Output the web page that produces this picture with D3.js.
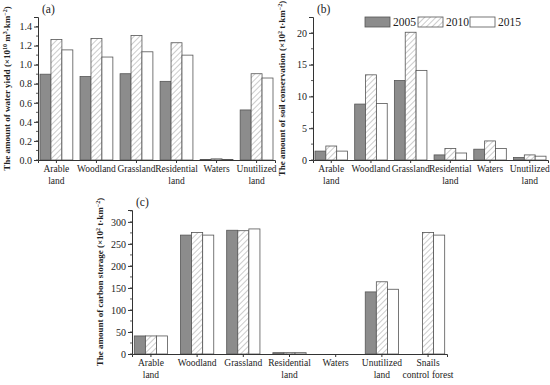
<!DOCTYPE html>
<html>
<head>
<meta charset="utf-8">
<script src="https://cdn.jsdelivr.net/npm/d3@7"></script>
<style>
  body { margin: 0; background: #fff; }
  svg text { font-family: "Liberation Serif", "Times New Roman", Times, serif; fill: #222; }
</style>
</head>
<body>
<div id="chart"></div>
<script>
var years = ["2005", "2010", "2015"];

var catsA = ["Arable|land", "Woodland", "Grassland", "Residential|land", "Waters", "Unutilized|land"];
var water2005 = [0.90, 0.875, 0.905, 0.825, 0.006, 0.525];
var water2010 = [1.265, 1.275, 1.305, 1.23, 0.012, 0.905];
var water2015 = [1.155, 1.08, 1.135, 1.10, 0.006, 0.86];
var ticksA = [0, 0.2, 0.4, 0.6, 0.8, 1.0, 1.2, 1.4];

var soil2005 = [1.4, 8.8, 12.5, 0.8, 1.7, 0.4];
var soil2010 = [2.2, 13.4, 20.1, 1.8, 3.0, 0.8];
var soil2015 = [1.4, 8.9, 14.1, 1.1, 1.8, 0.6];
var ticksB = [0, 5, 10, 15, 20];

var catsC = ["Arable|land", "Woodland", "Grassland", "Residential|land", "Waters", "Unutilized|land", "Snails|control forest"];
var carbon2005 = [41, 270, 281, 3, 0, 141, 0];
var carbon2010 = [41, 276, 280, 3, 0, 164, 276];
var carbon2015 = [41, 270, 284, 3, 0, 147, 270];
var ticksC = [0, 50, 100, 150, 200, 250, 300];

var serif = "'Liberation Serif', 'Times New Roman', Times, serif";

var svg = d3.select("#chart").append("svg")
  .attr("width", 550)
  .attr("height", 385)
  .attr("font-family", serif);

var defs = svg.append("defs");
var pat = defs.append("pattern")
  .attr("id", "hatch")
  .attr("patternUnits", "userSpaceOnUse")
  .attr("width", 4)
  .attr("height", 4)
  .attr("patternTransform", "rotate(45)");
pat.append("rect").attr("width", 4).attr("height", 4).attr("fill", "#fff");
pat.append("line")
  .attr("x1", 0).attr("y1", 0).attr("x2", 0).attr("y2", 4)
  .attr("stroke", "#aaa").attr("stroke-width", 1.2);

var fills = ["#8c8c8c", "url(#hatch)", "#fff"];

function drawPanel(p) {
  var x = d3.scaleBand().domain(p.cats).range([p.x0, p.x1])
    .paddingInner(p.pad).paddingOuter(p.padOuter);
  var x1 = d3.scaleBand().domain(years).range([0, x.bandwidth()]);
  var y = d3.scaleLinear().domain([0, p.ymax]).range([p.y0, p.ytop]);

  var g = svg.append("g");

  // bars
  p.series.forEach(function(vals, si) {
    g.selectAll(null)
      .data(vals)
      .enter()
      .append("rect")
      .attr("x", (d, i) => x(p.cats[i]) + x1(years[si]))
      .attr("y", d => y(d))
      .attr("width", x1.bandwidth())
      .attr("height", d => p.y0 - y(d))
      .attr("fill", fills[si])
      .attr("stroke", "#555")
      .attr("stroke-width", 0.8);
  });

  // minor ticks
  var minor = d3.range(0, p.ymax, p.minorStep);
  g.selectAll(null)
    .data(minor)
    .enter()
    .append("line")
    .attr("x1", p.x0 - 2).attr("x2", p.x0)
    .attr("y1", d => y(d)).attr("y2", d => y(d))
    .attr("stroke", "#333").attr("stroke-width", 0.8);

  var yAxis = g.append("g")
    .attr("transform", `translate(${p.x0},0)`)
    .call(d3.axisLeft(y).tickValues(p.ticks).tickSize(4).tickPadding(2)
      .tickFormat(p.fmt));
  yAxis.attr("font-family", serif);
  yAxis.select(".domain").attr("stroke", "#333");
  yAxis.selectAll(".tick line").attr("stroke", "#333");
  yAxis.selectAll("text").attr("font-size", "10px").attr("fill", "#333");

  var xAxis = g.append("g")
    .attr("transform", `translate(0,${p.y0})`)
    .call(d3.axisBottom(x).tickSize(3).tickFormat(""));
  xAxis.select(".domain").attr("stroke", "#333");
  xAxis.selectAll(".tick line").attr("stroke", "#333");

  // category labels (two lines)
  p.cats.forEach(function(c) {
    var parts = c.split("|");
    var t = g.append("text")
      .attr("x", x(c) + x.bandwidth() / 2)
      .attr("y", p.y0 + 12)
      .attr("text-anchor", "middle")
      .attr("font-size", "9.5px");
    parts.forEach(function(s, k) {
      t.append("tspan")
        .attr("x", x(c) + x.bandwidth() / 2)
        .attr("dy", k === 0 ? 0 : 12)
        .text(s);
    });
  });

  // panel letter
  g.append("text")
    .attr("x", p.x0 + 4)
    .attr("y", p.ytop - 4)
    .attr("font-size", "11.5px")
    .text(p.letter);

  // y title
  var yt = g.append("text")
    .attr("transform", `translate(${p.titleX},${(p.y0 + p.ytop) / 2}) rotate(-90)`)
    .attr("text-anchor", "middle")
    .attr("font-size", "9px")
    .attr("font-weight", "bold");
  p.title.forEach(function(seg) {
    var ts = yt.append("tspan").text(seg[0]);
    if (seg[1]) ts.attr("baseline-shift", "super").attr("font-size", "6px");
  });
}

drawPanel({
  cats: catsA, series: [water2005, water2010, water2015],
  x0: 38, x1: 275, y0: 160, ytop: 17, ymax: 1.5, pad: 0.18, padOuter: 0.05,
  ticks: ticksA, minorStep: 0.1, fmt: d3.format(".1f"), letter: "(a)", titleX: 10,
  title: [["The amount of water yield (×10"], ["10", 1], [" m"], ["3", 1], ["·km"], ["−2", 1], [")"]]
});

drawPanel({
  cats: catsA, series: [soil2005, soil2010, soil2015],
  x0: 313, x1: 548, y0: 160, ytop: 17, ymax: 22.5, pad: 0.18, padOuter: 0.05,
  ticks: ticksB, minorStep: 2.5, fmt: d3.format("d"), letter: "(b)", titleX: 285,
  title: [["The amount of soil conservation (×10"], ["2", 1], [" t·km"], ["−2", 1], [")"]]
});

drawPanel({
  cats: catsC, series: [carbon2005, carbon2010, carbon2015],
  x0: 132, x1: 447, y0: 354, ytop: 210, ymax: 327, pad: 0.28, padOuter: 0.05,
  ticks: ticksC, minorStep: 25, fmt: d3.format("d"), letter: "(c)", titleX: 103,
  title: [["The amount of carbon storage (×10"], ["2", 1], [" t·km"], ["−2", 1], [")"]]
});

// legend in panel (b)
var legX = [365, 418, 470];
years.forEach(function(yr, i) {
  svg.append("rect")
    .attr("x", legX[i]).attr("y", 17)
    .attr("width", 25).attr("height", 10)
    .attr("fill", fills[i]).attr("stroke", "#555").attr("stroke-width", 0.8);
  svg.append("text")
    .attr("x", legX[i] + 28).attr("y", 26)
    .attr("font-size", "11.5px")
    .text(yr);
});
</script>
</body>
</html>
